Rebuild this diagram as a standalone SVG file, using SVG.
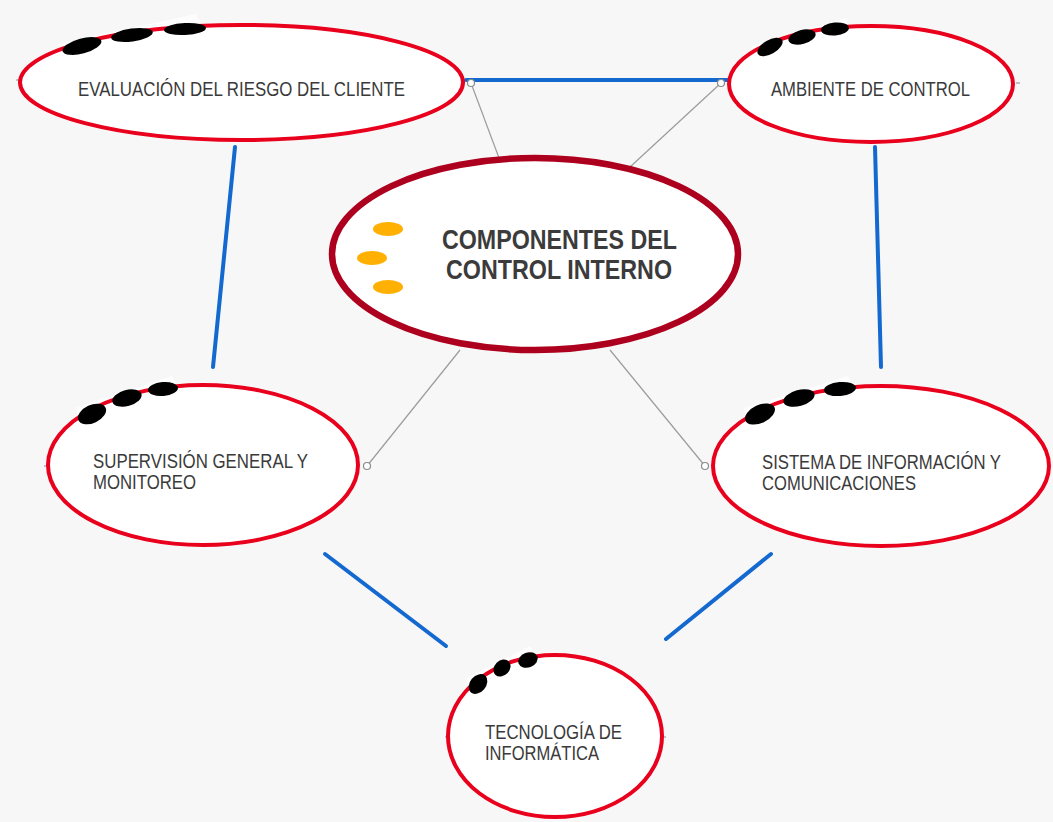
<svg xmlns="http://www.w3.org/2000/svg" width="1053" height="822" viewBox="0 0 1053 822">
  <style>
    .bg { fill: #f7f7f7; }
    .node { fill: #ffffff; stroke: #e8001c; stroke-width: 4; }
    .core { fill: #ffffff; stroke: #ad001e; stroke-width: 6.5; }
    .dot { fill: #000000; }
    .gold { fill: #ffb000; }
    .patch { fill: #fdfdfd; }
    .tick { stroke: #8a8a8a; stroke-width: 1; }
    .label { font-family: "Liberation Sans", Arial, sans-serif; font-size: 20px; fill: #3a3a3a; }
    .title { font-family: "Liberation Sans", Arial, sans-serif; font-size: 28px; font-weight: bold; fill: #3b3b3b; }
    .link { stroke: #1369cf; stroke-width: 4; stroke-linecap: round; fill: none; }
    .thin { stroke: #9c9c9c; stroke-width: 1.2; fill: none; }
    .end { fill: #ffffff; stroke: #8a8a8a; stroke-width: 1.2; }
  </style>

  <rect class="bg" x="0" y="0" width="1053" height="822"/>

  <!-- connectors -->
  <g id="connectors">
    <line class="link" x1="466" y1="80" x2="727" y2="80"/>
    <line class="link" x1="235" y1="147" x2="213" y2="367"/>
    <line class="link" x1="875" y1="147" x2="881" y2="367"/>
    <line class="link" x1="325" y1="554" x2="446" y2="646"/>
    <line class="link" x1="771" y1="554" x2="666" y2="639"/>

    <line class="thin" x1="471" y1="83" x2="499" y2="158"/>
    <line class="thin" x1="721" y1="83" x2="630" y2="167"/>
    <line class="thin" x1="460" y1="350" x2="367" y2="466"/>
    <line class="thin" x1="610" y1="350" x2="705" y2="466"/>
    <circle class="end" cx="471" cy="83" r="3.5"/>
    <circle class="end" cx="721" cy="83" r="3.5"/>
    <circle class="end" cx="367" cy="466" r="3.5"/>
    <circle class="end" cx="705" cy="466" r="3.5"/>
  </g>

  <!-- central node -->
  <g id="node-componentes">
    <ellipse class="core" cx="535" cy="254" rx="203" ry="96"/>
    <ellipse class="gold" cx="388" cy="229" rx="15" ry="7"/>
    <ellipse class="gold" cx="372" cy="258" rx="15" ry="7"/>
    <ellipse class="gold" cx="388" cy="287" rx="15" ry="7"/>
    <text class="title" x="442" y="249" textLength="235" lengthAdjust="spacingAndGlyphs">COMPONENTES DEL</text>
    <text class="title" x="446" y="279" textLength="226" lengthAdjust="spacingAndGlyphs">CONTROL INTERNO</text>
  </g>

  <!-- top left -->
  <g id="node-evaluacion">
    <polygon class="patch" points="58,44 196,14 206,34 70,66"/>
    <line class="tick" x1="16" y1="80" x2="19" y2="80"/>
    <ellipse class="node" cx="241.5" cy="82.5" rx="221.5" ry="57.5"/>
    <ellipse class="dot" cx="82" cy="46" rx="20" ry="7.5" transform="rotate(-15 82 46)"/>
    <ellipse class="dot" cx="132" cy="35" rx="21" ry="6.5" transform="rotate(-8 132 35)"/>
    <ellipse class="dot" cx="185" cy="29" rx="21" ry="6" transform="rotate(-3 185 29)"/>
    <text class="label" x="78" y="96" textLength="327" lengthAdjust="spacingAndGlyphs">EVALUACIÓN DEL RIESGO DEL CLIENTE</text>
  </g>

  <!-- top right -->
  <g id="node-ambiente">
    <polygon class="patch" points="752,46 846,18 852,36 760,62"/>
    <line class="tick" x1="1016" y1="83" x2="1020" y2="83"/>
    <ellipse class="node" cx="871" cy="84" rx="142" ry="58"/>
    <ellipse class="dot" cx="770" cy="47" rx="14" ry="7" transform="rotate(-30 770 47)"/>
    <ellipse class="dot" cx="802" cy="37" rx="14" ry="7" transform="rotate(-15 802 37)"/>
    <ellipse class="dot" cx="835" cy="29" rx="14" ry="6.5" transform="rotate(-5 835 29)"/>
    <text class="label" x="771" y="96" textLength="199" lengthAdjust="spacingAndGlyphs">AMBIENTE DE CONTROL</text>
  </g>

  <!-- middle left -->
  <g id="node-supervision">
    <polygon class="patch" points="76,408 172,376 182,396 82,432"/>
    <line class="tick" x1="44" y1="466" x2="47" y2="466"/>
    <ellipse class="node" cx="203" cy="465" rx="155" ry="80"/>
    <ellipse class="dot" cx="92" cy="414" rx="15" ry="9" transform="rotate(-25 92 414)"/>
    <ellipse class="dot" cx="127" cy="398" rx="15" ry="8" transform="rotate(-15 127 398)"/>
    <ellipse class="dot" cx="163" cy="389" rx="15" ry="7" transform="rotate(-5 163 389)"/>
    <text class="label" x="93" y="468" textLength="215" lengthAdjust="spacingAndGlyphs">SUPERVISIÓN GENERAL Y</text>
    <text class="label" x="93" y="489" textLength="103" lengthAdjust="spacingAndGlyphs">MONITOREO</text>
  </g>

  <!-- middle right -->
  <g id="node-sistema">
    <polygon class="patch" points="744,408 848,376 858,396 750,432"/>
    <ellipse class="node" cx="881" cy="466" rx="168" ry="80"/>
    <ellipse class="dot" cx="760" cy="414" rx="16" ry="9" transform="rotate(-25 760 414)"/>
    <ellipse class="dot" cx="799" cy="398" rx="16" ry="8" transform="rotate(-15 799 398)"/>
    <ellipse class="dot" cx="840" cy="389" rx="16" ry="7" transform="rotate(-5 840 389)"/>
    <text class="label" x="762" y="469" textLength="239" lengthAdjust="spacingAndGlyphs">SISTEMA DE INFORMACIÓN Y</text>
    <text class="label" x="762" y="490" textLength="154" lengthAdjust="spacingAndGlyphs">COMUNICACIONES</text>
  </g>

  <!-- bottom -->
  <g id="node-tecnologia">
    <polygon class="patch" points="466,678 530,646 540,664 472,698"/>
    <line class="tick" x1="445" y1="737" x2="448" y2="737"/>
    <line class="tick" x1="663" y1="737" x2="666" y2="737"/>
    <ellipse class="node" cx="555" cy="736" rx="107" ry="81"/>
    <ellipse class="dot" cx="478" cy="684" rx="11" ry="8" transform="rotate(-50 478 684)"/>
    <ellipse class="dot" cx="502" cy="668" rx="9.5" ry="7.5" transform="rotate(-45 502 668)"/>
    <ellipse class="dot" cx="528" cy="660" rx="10" ry="7.5" transform="rotate(-20 528 660)"/>
    <text class="label" x="485" y="739" textLength="137" lengthAdjust="spacingAndGlyphs">TECNOLOGÍA DE</text>
    <text class="label" x="485" y="760" textLength="114" lengthAdjust="spacingAndGlyphs">INFORMÁTICA</text>
  </g>
</svg>
